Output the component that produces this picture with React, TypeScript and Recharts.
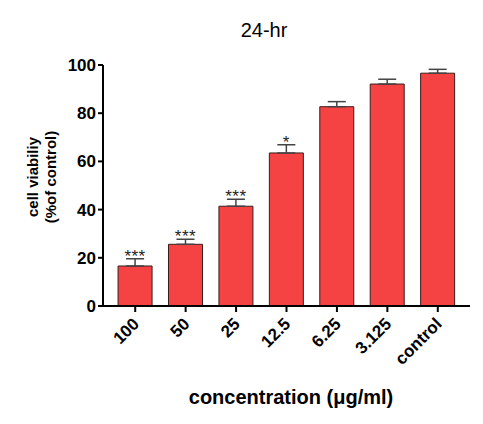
import React from 'react';
import { BarChart, Bar, XAxis, YAxis, ErrorBar, LabelList } from 'recharts';

const categories = ['100', '50', '25', '12.5', '6.25', '3.125', 'control'];
const viability = [16.6, 25.6, 41.4, 63.5, 82.7, 92.1, 96.6];
const sem = [3.0, 2.1, 2.9, 3.4, 2.1, 2.0, 1.6];
const significance = ['***', '***', '***', '*', '', '', ''];
const yTicks = [0, 20, 40, 60, 80, 100];

const data = categories.map((c, i) => ({
  name: c,
  value: viability[i],
  err: [0, sem[i]],
  sig: significance[i],
}));

const FONT = '"Liberation Sans", Arial, sans-serif';

const StarLabel = (props: any) => {
  const { x, y, width, height, index } = props;
  const d = data[index];
  if (!d || !d.sig) return null;
  const pxPerUnit = height / d.value;
  const top = y - sem[index] * pxPerUnit;
  return (
    <text
      x={x + width / 2}
      y={top + 3}
      textAnchor="middle"
      fontFamily={FONT}
      fontSize={17}
      letterSpacing={0.5}
      fill="#222"
    >
      {d.sig}
    </text>
  );
};

const YLabel = () => {
  const cy = 177;
  return (
    <g fontFamily={FONT} fontWeight="bold" fontSize={15} fill="#000">
      <text x={32} y={cy} transform={`rotate(-90, 32, ${cy})`} textAnchor="middle" dominantBaseline="central">
        cell viabiliy
      </text>
      <text x={50} y={cy} transform={`rotate(-90, 50, ${cy})`} textAnchor="middle" dominantBaseline="central">
        (%of control)
      </text>
    </g>
  );
};

const XLabel = () => (
  <text x={291} y={404} textAnchor="middle" fontFamily={FONT} fontWeight="bold" fontSize={20} fill="#000">
    concentration (μg/ml)
  </text>
);

const XTick = (props: any) => {
  const { x, y, payload } = props;
  return (
    <text
      x={x + 5}
      y={y + 11}
      transform={`rotate(-45, ${x + 5}, ${y + 11})`}
      textAnchor="end"
      fontFamily={FONT}
      fontWeight="bold"
      fontSize={17}
      fill="#000"
    >
      {payload.value}
    </text>
  );
};

export default function App() {
  return (
    <div style={{ position: 'absolute', left: 0, top: 0, width: 483, height: 424, background: '#fff' }}>
      <div
        style={{
          position: 'absolute',
          left: 0,
          top: 19,
          width: 528,
          textAlign: 'center',
          fontFamily: FONT,
          fontSize: 20,
          color: '#000',
        }}
      >
        24-hr
      </div>
      <BarChart
        width={483}
        height={424}
        data={data}
        margin={{ top: 65, right: 13, left: 43, bottom: 58 }}
        barCategoryGap="16%"
      >
        <XAxis
          dataKey="name"
          height={60}
          padding={{ left: 7, right: 7 }}
          axisLine={{ stroke: '#000', strokeWidth: 2 }}
          tickLine={{ stroke: '#000', strokeWidth: 2 }}
          tickSize={6}
          tick={<XTick />}
          interval={0}
          label={<XLabel />}
        />
        <YAxis
          width={60}
          domain={[0, 100]}
          ticks={yTicks}
          interval={0}
          axisLine={{ stroke: '#000', strokeWidth: 2 }}
          tickLine={{ stroke: '#000', strokeWidth: 2 }}
          tickSize={5}
          tick={{ fontFamily: FONT, fontWeight: 'bold', fontSize: 17, fill: '#000' }}
          label={<YLabel />}
        />
        <Bar dataKey="value" fill="#f54343" stroke="#3a1c1c" strokeWidth={1} isAnimationActive={false}>
          <ErrorBar dataKey="err" width={9} stroke="#444" strokeWidth={1.5} direction="y" />
          <LabelList dataKey="value" content={<StarLabel />} />
        </Bar>
      </BarChart>
    </div>
  );
}
